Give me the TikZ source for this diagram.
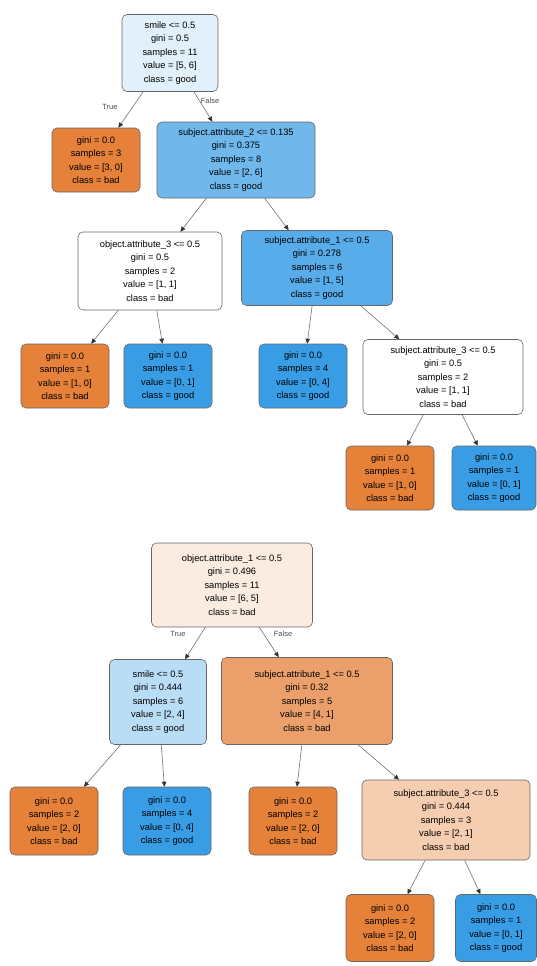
\documentclass[tikz,border=0pt]{standalone}
\usepackage{fontspec}
\setmainfont{Liberation Sans}
\usetikzlibrary{arrows.meta}

\definecolor{bad}{RGB}{229,129,57}
\definecolor{good}{RGB}{57,157,229}

\begin{document}
\begin{tikzpicture}[x=1pt,y=-1pt,>=Stealth,
  box/.style={draw=black!60,line width=0.6pt,rounded corners=5pt,align=center,
    inner sep=1pt,font=\fontsize{9.3}{13.5}\selectfont},
  leaf/.style={box,minimum width=88pt,minimum height=64pt},
  edge/.style={black!55,line width=0.6pt,-{Triangle[length=5pt,width=4.5pt,black!80]}},
  lbl/.style={font=\fontsize{7.5}{8}\selectfont,black!70}]
  \useasboundingbox (0,0) rectangle (536,966);
  \fill[white] (0,0) rectangle (536,966);

  % first tree
  \node[box,fill=good!15,minimum width=96pt,minimum height=77pt] (root) at (170,53)
    {smile <= 0.5\\gini = 0.5\\samples = 11\\value = [5, 6]\\class = good};
  \node[leaf,fill=bad] (a) at (96,160)
    {gini = 0.0\\samples = 3\\value = [3, 0]\\class = bad};
  \node[box,fill=good!72,minimum width=158pt,minimum height=76pt] (b) at (236,160)
    {subject.attribute\_2 <= 0.135\\gini = 0.375\\samples = 8\\value = [2, 6]\\class = good};
  \node[box,fill=white,minimum width=144pt,minimum height=78pt] (ba) at (150,271)
    {object.attribute\_3 <= 0.5\\gini = 0.5\\samples = 2\\value = [1, 1]\\class = bad};
  \node[box,fill=good!85,minimum width=151pt,minimum height=75pt] (bb) at (317,268)
    {subject.attribute\_1 <= 0.5\\gini = 0.278\\samples = 6\\value = [1, 5]\\class = good};
  \node[leaf,fill=bad] (baa) at (65,376)
    {gini = 0.0\\samples = 1\\value = [1, 0]\\class = bad};
  \node[leaf,fill=good] (bab) at (168,376)
    {gini = 0.0\\samples = 1\\value = [0, 1]\\class = good};
  \node[leaf,fill=good] (bba) at (303,376)
    {gini = 0.0\\samples = 4\\value = [0, 4]\\class = good};
  \node[box,fill=white,minimum width=160pt,minimum height=75pt] (bbb) at (443,377)
    {subject.attribute\_3 <= 0.5\\gini = 0.5\\samples = 2\\value = [1, 1]\\class = bad};
  \node[leaf,fill=bad] (bbba) at (390,478)
    {gini = 0.0\\samples = 1\\value = [1, 0]\\class = bad};
  \node[leaf,fill=good,minimum width=84pt] (bbbb) at (494,478)
    {gini = 0.0\\samples = 1\\value = [0, 1]\\class = good};

  \draw[edge] (root) -- (a);
  \draw[edge] (root) -- (b);
  \draw[edge] (b) -- (ba);
  \draw[edge] (b) -- (bb);
  \draw[edge] (ba) -- (baa);
  \draw[edge] (ba) -- (bab);
  \draw[edge] (bb) -- (bba);
  \draw[edge] (bb) -- (bbb);
  \draw[edge] (bbb) -- (bbba);
  \draw[edge] (bbb) -- (bbbb);
  \node[lbl] (t1) at (110,107) {True};
  \node[lbl] (f1) at (210,101) {False};

  % second tree
  \node[box,fill=bad!15,minimum width=161pt,minimum height=84pt] (root2) at (232,585)
    {object.attribute\_1 <= 0.5\\gini = 0.496\\samples = 11\\value = [6, 5]\\class = bad};
  \node[box,fill=good!35,minimum width=97pt,minimum height=85pt] (c) at (158,702)
    {smile <= 0.5\\gini = 0.444\\samples = 6\\value = [2, 4]\\class = good};
  \node[box,fill=bad!75,minimum width=171pt,minimum height=87pt] (d) at (307,701)
    {subject.attribute\_1 <= 0.5\\gini = 0.32\\samples = 5\\value = [4, 1]\\class = bad};
  \node[leaf,fill=bad,minimum height=68pt] (ca) at (54,821)
    {gini = 0.0\\samples = 2\\value = [2, 0]\\class = bad};
  \node[leaf,fill=good,minimum height=68pt] (cb) at (167,821)
    {gini = 0.0\\samples = 4\\value = [0, 4]\\class = good};
  \node[leaf,fill=bad,minimum height=68pt] (da) at (293,821)
    {gini = 0.0\\samples = 2\\value = [2, 0]\\class = bad};
  \node[box,fill=bad!40,minimum width=168pt,minimum height=80pt] (db) at (446,820)
    {subject.attribute\_3 <= 0.5\\gini = 0.444\\samples = 3\\value = [2, 1]\\class = bad};
  \node[leaf,fill=bad,minimum height=67pt] (dba) at (390,928)
    {gini = 0.0\\samples = 2\\value = [2, 0]\\class = bad};
  \node[leaf,fill=good,minimum width=81pt,minimum height=67pt] (dbb) at (496,928)
    {gini = 0.0\\samples = 1\\value = [0, 1]\\class = good};

  \draw[edge] (root2) -- (c);
  \draw[edge] (root2) -- (d);
  \draw[edge] (c) -- (ca);
  \draw[edge] (c) -- (cb);
  \draw[edge] (d) -- (da);
  \draw[edge] (d) -- (db);
  \draw[edge] (db) -- (dba);
  \draw[edge] (db) -- (dbb);
  \node[lbl] (t2) at (178,634) {True};
  \node[lbl] (f2) at (283,634) {False};
\end{tikzpicture}
\end{document}
